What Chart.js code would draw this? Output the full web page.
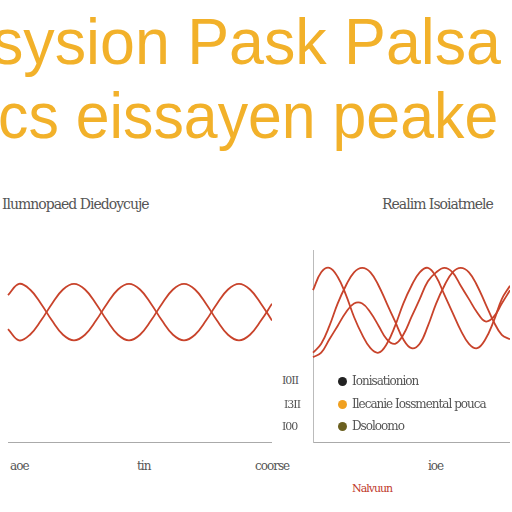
<!DOCTYPE html><html><head><script src="https://cdn.jsdelivr.net/npm/chart.js"></script>
<style>body{margin:0;width:512px;height:512px;background:#fff;font-family:"Liberation Sans",Arial;position:relative;overflow:hidden}
.t{position:absolute;color:#f2b12a;font-size:64px;line-height:64px;white-space:nowrap;transform-origin:0 0}
.s{position:absolute;font-size:14px;color:#555;white-space:nowrap;font-family:"DejaVu Serif";letter-spacing:-1px}
.d{position:absolute;width:9px;height:9px;border-radius:50%}
</style></head><body>
<div class="t" style="left:-8px;top:10px;transform:scaleX(0.98)">sysion Pask Palsa</div>
<div class="t" style="left:-2px;top:84px;transform:scaleX(0.95)">cs eissayen peake</div>
<div class="s" style="left:2px;top:196px">Ilumnopaed Diedoycuje</div>
<div class="s" style="left:382px;top:196px">Realim Isoiatmele</div>
<div style="position:absolute;left:0;top:250px;width:272px;height:200px"><canvas id="a"></canvas></div>
<div style="position:absolute;left:305px;top:250px;width:205px;height:200px"><canvas id="b"></canvas></div>
<div class="s" style="left:282px;top:374px;font-size:11px">I0II</div>
<div class="s" style="left:284px;top:398px;font-size:11px">I3II</div>
<div class="s" style="left:282px;top:420px;font-size:11px">I00</div>
<div class="d" style="left:338px;top:377px;background:#222"></div><div class="s" style="left:352px;top:374px;font-size:12px">Ionisationion</div>
<div class="d" style="left:338px;top:400px;background:#f0a020"></div><div class="s" style="left:352px;top:397px;font-size:12px">Ilecanie Iossmental pouca</div>
<div class="d" style="left:338px;top:422px;background:#6b6020"></div><div class="s" style="left:352px;top:419px;font-size:12px">Dsoloomo</div>
<div class="s" style="left:10px;top:459px;font-size:12px">aoe</div>
<div class="s" style="left:137px;top:459px;font-size:12px">tin</div>
<div class="s" style="left:255px;top:459px;font-size:12px">coorse</div>
<div class="s" style="left:428px;top:459px;font-size:12px">ioe</div>
<div class="s" style="left:352px;top:482px;font-size:11px;color:#c0392b">Nalvuun</div>
<script>
const xs=[0,1,2,3,4,5,6,7,8,9,10,11,12,13,14,15,16,17,18,19,20,21,22,23,24];
const a1=[0.6,1,0.8,0.3,-0.3,-0.8,-1,-0.8,-0.3,0.3,0.8,1,0.8,0.3,-0.3,-0.8,-1,-0.8,-0.3,0.3,0.8,1,0.8,0.3,-0.3];
const a2=[-0.6,-1,-0.8,-0.3,0.3,0.8,1,0.8,0.3,-0.3,-0.8,-1,-0.8,-0.3,0.3,0.8,1,0.8,0.3,-0.3,-0.8,-1,-0.8,-0.3,0.3];
const b1=[-0.9,-0.7,-0.3,0.2,0.6,0.9,1,0.9,0.6,0.2,-0.2,-0.6,-0.8,-0.7,-0.3,0.2,0.6,0.9,1,0.9,0.6,0.2,-0.2,-0.5,-0.6];
const b2=[0.5,0.9,1,0.8,0.4,-0.1,-0.5,-0.8,-0.9,-0.7,-0.3,0.2,0.6,0.9,1,0.8,0.4,0,-0.4,-0.7,-0.8,-0.6,-0.2,0.3,0.6];
const b3=[-1,-0.9,-0.6,-0.3,0,0.2,0.2,0,-0.3,-0.6,-0.7,-0.5,-0.1,0.3,0.7,0.9,1,0.9,0.6,0.3,0,-0.2,-0.1,0.2,0.5];
function mk(id,sets,grid,mn,mx){new Chart(document.getElementById(id),{type:'line',data:{labels:xs,datasets:sets.map(s=>({data:s,borderColor:'#c8432b',borderWidth:1.8,pointRadius:0,tension:0.4}))},
options:{responsive:true,maintainAspectRatio:false,animation:false,plugins:{legend:{display:false}},
scales:{x:{ticks:{display:false},grid:{display:false},border:{color:'#aaa'}},y:{min:mn,max:mx,ticks:{display:false},grid:{display:false},border:{display:grid,color:'#bbb'}}}}});}
mk('a',[a1,a2],false,-4.6,2.2);mk('b',[b1,b2,b3],true,-2.9,1.4);
</script></body></html>
